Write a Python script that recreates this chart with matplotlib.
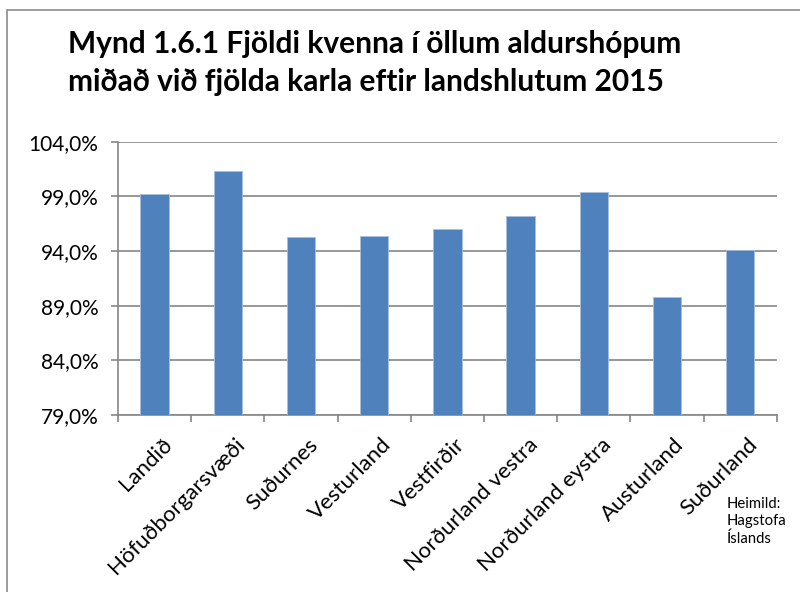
import matplotlib.pyplot as plt
from matplotlib.patches import Rectangle
from matplotlib.ticker import FuncFormatter, FixedLocator
from matplotlib.transforms import ScaledTranslation

plt.rcParams["font.family"] = ["Lato", "DejaVu Sans"]

# Gögn

regions = ["Landið", "Höfuðborgarsvæði", "Suðurnes", "Vesturland", "Vestfirðir",
           "Norðurland vestra", "Norðurland eystra", "Austurland", "Suðurland"]
ratio = [99.2, 101.3, 95.25, 95.35, 96.0, 97.2, 99.4, 89.8, 94.1]
yticks = [79, 84, 89, 94, 99, 104]

title = "Mynd 1.6.1 Fjöldi kvenna í öllum aldurshópum\nmiðað við fjölda karla eftir landshlutum 2015"
source = "Heimild:\nHagstofa\nÍslands"

fig = plt.figure(figsize=(8, 5.92), dpi=100)
ax = fig.add_axes([0.1475, 0.299, 0.8235, 0.4616])

grid_col = "#868686"
x = list(range(len(regions)))
ax.bar(x, ratio, width=0.39, color="#4F81BD", edgecolor="#A7BFDE", linewidth=0.6, zorder=3)

ax.set_ylim(79, 104)
ax.set_xlim(-0.5, len(regions) - 0.5)
ax.set_yticks(yticks)
ax.yaxis.set_major_formatter(FuncFormatter(lambda v, p: f"{v:.1f}%".replace(".", ",")))
ax.grid(axis="y", color=grid_col, linewidth=1.2, zorder=0)

ax.set_xticks(x)
ax.set_xticklabels(regions, rotation=45, ha="right", rotation_mode="anchor", fontsize=16)
ax.tick_params(axis="x", length=0, pad=14)
ax.xaxis.set_minor_locator(FixedLocator([i - 0.5 for i in range(len(regions) + 1)]))
ax.tick_params(axis="x", which="minor", length=5, color=grid_col, width=1.2)
ax.tick_params(axis="y", length=5, color=grid_col, width=1.2, labelsize=15, pad=9)

# etiketturnar aðeins til hægri eins og í Excel
shift = ScaledTranslation(7 / 100, 0, fig.dpi_scale_trans)
for lbl in ax.get_xticklabels():
    lbl.set_transform(lbl.get_transform() + shift)

for s in ["top", "right"]:
    ax.spines[s].set_visible(False)
for s in ["left", "bottom"]:
    ax.spines[s].set_color(grid_col)
    ax.spines[s].set_linewidth(1.2)

fig.text(68 / 800, 1 - 30 / 592, title, fontsize=21.5, fontweight="bold",
         ha="left", va="top", linespacing=1.42)
fig.text(727 / 800, 1 - 497 / 592, source, fontsize=10.7, ha="left", va="top",
         linespacing=1.3)

fig.patches.append(Rectangle((7 / 800, -0.1), 1.2, 1.1 - 10 / 592,
                             transform=fig.transFigure, fill=False,
                             edgecolor="#8c8c8c", linewidth=1.2))

plt.savefig("out.png", dpi=100)
